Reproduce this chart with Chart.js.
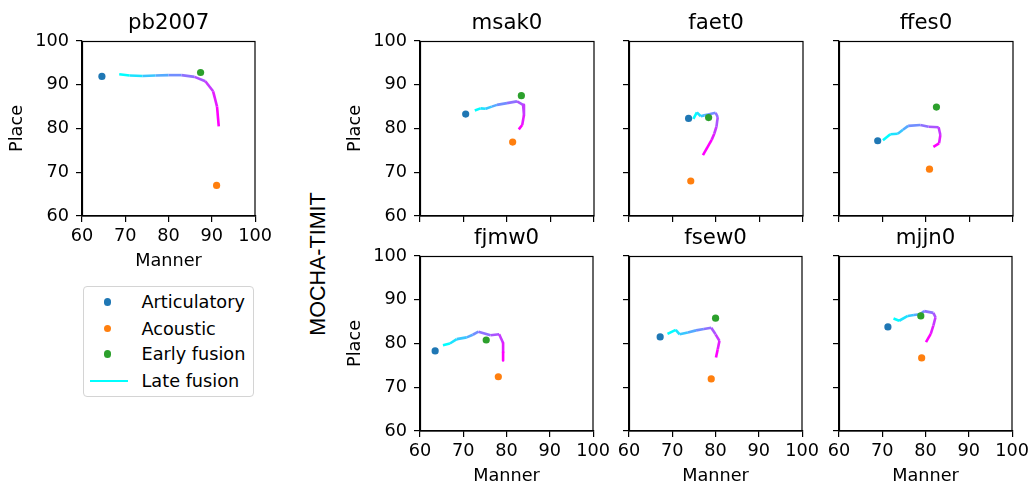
<!DOCTYPE html>
<html><head><meta charset="utf-8">
<script src="https://cdn.jsdelivr.net/npm/chart.js@4/dist/chart.umd.min.js"></script>
<style>
html,body{margin:0;padding:0;background:#fff;overflow:hidden;width:1032px;height:484px;}
#root{position:relative;width:1032px;height:484px;}
canvas.panel{position:absolute;}
#legend{position:absolute;left:82.5px;top:285.5px;width:171px;height:111px;border:1px solid #d4d4d4;border-radius:4px;box-sizing:border-box;font-family:"DejaVu Sans";font-size:17.7px;color:#000;}
.li{position:absolute;left:0;height:22px;line-height:22px;}
.lt{position:absolute;left:58px;top:0;white-space:nowrap;}
#super{position:absolute;left:318px;top:264px;transform:translate(-50%,-50%) rotate(-90deg);font-family:"Liberation Sans";font-size:21.5px;white-space:nowrap;color:#000;}
</style></head><body>
<div id="root">
<div id="legend"></div>
<div id="super">MOCHA-TIMIT</div>
</div>
<script>
// ---- data ----
const speakers = ['pb2007','msak0','faet0','ffes0','fjmw0','fsew0','mjjn0'];
const seriesNames = ['Articulatory','Acoustic','Early fusion','Late fusion'];
const seriesColors = ['#1f77b4','#ff7f0e','#2ca02c','#00ffff'];
const axisTicks = [60,70,80,90,100];
const xLabel = 'Manner';
const yLabel = 'Place';
const groupLabel = 'MOCHA-TIMIT';

// single-point results per speaker (order as speakers)
const articulatoryManner = [64.6,70.5,73.7,68.9,63.5,67.2,71.3];
const articulatoryPlace  = [91.9,83.3,82.3,77.2,78.3,81.5,83.8];
const acousticManner     = [91.1,81.3,74.2,80.8,78.1,79.0,79.1];
const acousticPlace      = [67.0,76.9,68.0,70.7,72.4,71.9,76.7];
const earlyManner        = [87.4,83.3,78.3,82.4,75.3,80.0,78.9];
const earlyPlace         = [92.8,87.5,82.5,84.9,80.8,85.8,86.3];

// late fusion trajectories (fusion weight sweep)
const late_pb2007_manner = [68.6,71.0,74.0,77.0,80.0,83.0,86.0,88.5,90.3,91.2,91.6];
const late_pb2007_place  = [92.4,92.1,92.0,92.1,92.2,92.2,91.8,90.8,88.5,85.0,80.5];
const late_msak0_manner  = [72.6,73.9,75.1,76.5,77.7,80.0,82.3,83.7,83.9,83.5,82.7];
const late_msak0_place   = [84.1,84.6,84.5,85.0,85.4,85.8,86.2,85.4,83.1,80.8,79.8];
const late_faet0_manner  = [74.8,75.6,76.5,77.3,78.2,79.9,80.4,80.1,79.6,79.0,77.0];
const late_faet0_place   = [82.2,83.7,82.8,83.0,83.2,83.6,82.6,80.4,78.8,77.4,73.9];
const late_ffes0_manner  = [70.1,71.8,73.5,74.7,75.9,78.7,80.6,82.9,83.3,83.0,81.7];
const late_ffes0_place   = [77.3,78.7,78.8,79.7,80.6,80.8,80.4,80.3,78.5,76.6,75.8];
const late_fjmw0_manner  = [65.3,66.9,68.5,70.8,72.2,73.5,76.3,78.3,79.2,79.2,79.2];
const late_fjmw0_place   = [79.6,80.0,81.0,81.4,82.0,82.7,81.9,82.1,80.1,78.0,76.1];
const late_fsew0_manner  = [68.9,70.8,71.7,73.6,75.5,77.3,79.0,80.0,80.9,80.5,80.1];
const late_fsew0_place   = [82.2,83.1,82.1,82.5,83.0,83.3,83.6,82.1,80.6,78.7,76.8];
const late_mjjn0_manner  = [72.6,73.9,75.9,77.3,78.7,79.7,81.8,82.3,81.8,81.2,80.1];
const late_mjjn0_place   = [85.7,85.2,86.3,86.5,86.7,87.4,87.0,86.0,84.1,82.2,80.3];

const lateManner = [late_pb2007_manner,late_msak0_manner,late_faet0_manner,late_ffes0_manner,late_fjmw0_manner,late_fsew0_manner,late_mjjn0_manner];
const latePlace  = [late_pb2007_place,late_msak0_place,late_faet0_place,late_ffes0_place,late_fjmw0_place,late_fsew0_place,late_mjjn0_place];

// ---- layout (page px) ----
const panelLayout = [
  {L:82,    T:41,  yl:true,  xl:true},
  {L:419.5, T:41,  yl:true,  xl:false},
  {L:629,   T:41,  yl:false, xl:false},
  {L:838.5, T:41,  yl:false, xl:false},
  {L:419.5, T:256, yl:true,  xl:true},
  {L:629,   T:256, yl:false, xl:true},
  {L:838.5, T:256, yl:false, xl:true}
];
const YW = 80, XH = 56, TOPH = 41, PW = 174, PH = 175, RPAD = 20;
const FONT = '"DejaVu Sans"';
const TICKFS = 17.7, TITLEFS = 21.3;

function cool(t){ return 'rgb(' + Math.round(255*t) + ',' + Math.round(255*(1-t)) + ',255)'; }

const framePlugin = {
  id:'frame',
  afterDraw(chart){
    const a = chart.chartArea, c = chart.ctx;
    c.save(); c.strokeStyle = '#000'; c.lineWidth = 1.2;
    c.strokeRect(Math.round(a.left)+0.5, Math.round(a.top)+0.5, Math.round(a.right-a.left)-0.5, Math.round(a.bottom-a.top)-0.5);
    c.restore();
  }
};

const root = document.getElementById('root');
speakers.forEach((name, k) => {
  const p = panelLayout[k];
  const cv = document.createElement('canvas');
  cv.className = 'panel';
  const w = YW + PW + RPAD, h = TOPH + PH + XH;
  cv.width = w; cv.height = h;
  cv.style.left = (p.L - YW) + 'px';
  cv.style.top = (p.T - TOPH) + 'px';
  cv.style.width = w + 'px'; cv.style.height = h + 'px';
  root.appendChild(cv);
  const lm = lateManner[k], lp = latePlace[k];
  const n = lm.length;
  const lateData = lm.map((x,i) => ({x:x, y:lp[i]}));
  const pt = (x,y) => [{x:x, y:y}];
  const axisCommon = (isX, showLabels, showTitle) => ({
    type:'linear', min:60, max:100,
    afterBuildTicks(s){ s.ticks = axisTicks.map(v => ({value:v})); },
    afterFit(s){ if (isX) s.height = XH; else s.width = YW; },
    ticks:{display:showLabels, color:'#000', font:{family:FONT, size:TICKFS}, padding: isX ? 4 : 7, autoSkip:false, maxRotation:0},
    grid:{display:true, drawOnChartArea:false, drawTicks:true, tickLength:6, color:'#000', lineWidth:1.2},
    border:{display:true, color:'#000', width:1.2},
    title:{display:showTitle, text: isX ? xLabel : yLabel, color:'#000', font:{family:FONT, size:TICKFS}, padding: isX ? {top:0,bottom:0} : {top:4.4,bottom:0}}
  });
  new Chart(cv, {
    type:'scatter',
    data:{datasets:[
      {label:seriesNames[0], data:pt(articulatoryManner[k], articulatoryPlace[k]), backgroundColor:seriesColors[0], borderWidth:0, pointRadius:3.6, order:1},
      {label:seriesNames[1], data:pt(acousticManner[k], acousticPlace[k]), backgroundColor:seriesColors[1], borderWidth:0, pointRadius:3.6, order:1},
      {label:seriesNames[2], data:pt(earlyManner[k], earlyPlace[k]), backgroundColor:seriesColors[2], borderWidth:0, pointRadius:3.6, order:1},
      {label:seriesNames[3], type:'line', data:lateData, showLine:true, pointRadius:0, borderWidth:2.6, tension:0,
        borderColor:seriesColors[3], borderJoinStyle:'round', borderCapStyle:'butt', fill:false, order:2,
        segment:{borderColor: ctx => cool(ctx.p0DataIndex/(n-2))}}
    ]},
    options:{
      responsive:false, animation:false, devicePixelRatio:1,
      layout:{padding:{left:0, top:0, right:RPAD, bottom:0}},
      plugins:{
        legend:{display:false}, tooltip:{enabled:false},
        title:{display:true, fullSize:false, align:'center', text:name, color:'#000', font:{family:FONT, size:TITLEFS, weight:'normal'}, padding:{top:11, bottom:TOPH-11-TITLEFS*1.2}}
      },
      scales:{
        x: axisCommon(true, p.xl, p.xl),
        y: axisCommon(false, p.yl, p.yl)
      }
    },
    plugins:[framePlugin]
  });
});

// legend (HTML)
const lg = document.getElementById('legend');
const rowCenters = [15.5, 42, 67.5, 94.5];
seriesNames.forEach((s,i) => {
  const row = document.createElement('div');
  row.className = 'li';
  row.style.top = (rowCenters[i] - 11) + 'px';
  row.style.width = '100%';
  let mark;
  if (i < 3) {
    mark = '<span style="position:absolute;left:20.5px;top:7.4px;width:7.2px;height:7.2px;border-radius:50%;background:'+seriesColors[i]+'"></span>';
  } else {
    mark = '<span style="position:absolute;left:6px;top:9.8px;width:38px;height:2.4px;background:'+seriesColors[i]+'"></span>';
  }
  row.innerHTML = mark + '<span class="lt">' + s + '</span>';
  lg.appendChild(row);
});
document.getElementById('super').textContent = groupLabel;
</script>
</body></html>
